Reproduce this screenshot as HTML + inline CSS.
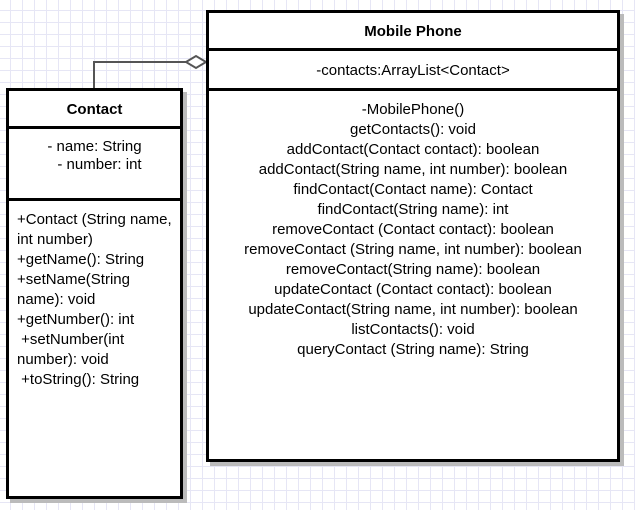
<!DOCTYPE html>
<html><head><style>
body{margin:0;width:635px;height:510px;overflow:hidden;background:#fff;
background-image:linear-gradient(#e6e6f5 1px,transparent 1px),linear-gradient(90deg,#e6e6f5 1px,transparent 1px);background-size:12px 12px;background-position:-2px -2px;
font-family:"Liberation Sans",Arial,sans-serif;font-size:15px;color:#000;position:relative}
.box{position:absolute;background:#fff;border:3px solid #000;box-sizing:border-box;box-shadow:4px 4px 0 #bbb}
.hr{position:absolute;left:0;right:0;border-top:3px solid #000}
.t{position:absolute;white-space:nowrap;line-height:20px}
.c{left:0;right:0;text-align:center}
</style></head><body>
<svg style="position:absolute;left:0;top:0" width="635" height="510">
<polyline points="94,89 94,62 186,62" fill="none" stroke="#555" stroke-width="2"/>
<polygon points="186,62 196,56 206,62 196,68" fill="#fff" stroke="#555" stroke-width="2"/>
</svg>
<div class="box" style="left:6px;top:88px;width:177px;height:411px">
<div class="t c" style="top:9px;font-weight:bold">Contact</div>
<div class="hr" style="top:35px"></div>
<div class="t c" style="top:46px">- name: String</div>
<div class="t c" style="top:64px;left:10px">- number: int</div>
<div class="hr" style="top:107px"></div>
<div class="t" style="left:8px;top:119px;line-height:20px">+Contact (String name,<br>int number)<br>+getName(): String<br>+setName(String<br>name): void<br>+getNumber(): int<br>&nbsp;+setNumber(int<br>number): void<br>&nbsp;+toString(): String</div>
</div>
<div class="box" style="left:206px;top:10px;width:414px;height:452px">
<div class="t c" style="top:9px;font-weight:bold">Mobile Phone</div>
<div class="hr" style="top:35px"></div>
<div class="t c" style="top:48px">-contacts:ArrayList&lt;Contact&gt;</div>
<div class="hr" style="top:75px"></div>
<div class="t c" style="top:87px;line-height:20px">-MobilePhone()<br>getContacts(): void<br>addContact(Contact contact): boolean<br>addContact(String name, int number): boolean<br>findContact(Contact name): Contact<br>findContact(String name): int<br>removeContact (Contact contact): boolean<br>removeContact (String name, int number): boolean<br>removeContact(String name): boolean<br>updateContact (Contact contact): boolean<br>updateContact(String name, int number): boolean<br>listContacts(): void<br>queryContact (String name): String</div>
</div>
</body></html>
